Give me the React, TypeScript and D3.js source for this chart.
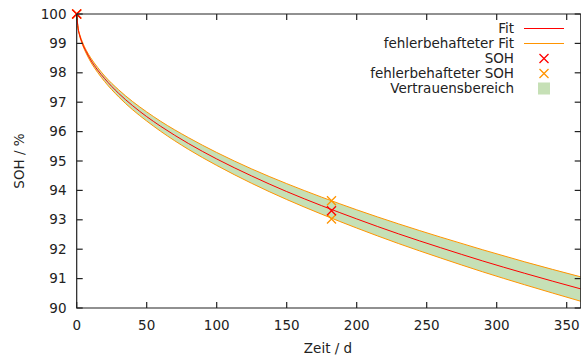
import * as d3 from 'd3'

const days = [0, 1, 2, 4, 7, 10, 15, 20, 30, 40, 50, 60, 80, 100, 125, 150, 175, 200, 230, 260, 290, 320, 360]
const fit = [100, 99.51, 99.3, 99.01, 98.7, 98.44, 98.09, 97.8, 97.3, 96.88, 96.51, 96.18, 95.59, 95.07, 94.49, 93.96, 93.48, 93.03, 92.52, 92.05, 91.6, 91.18, 90.65]
const fitUpper = [100, 99.53, 99.33, 99.06, 98.75, 98.51, 98.18, 97.89, 97.42, 97.02, 96.67, 96.35, 95.79, 95.29, 94.73, 94.23, 93.77, 93.34, 92.86, 92.41, 91.98, 91.57, 91.06]
const fitLower = [100, 99.49, 99.27, 98.97, 98.64, 98.37, 98.01, 97.7, 97.18, 96.74, 96.36, 96.01, 95.39, 94.85, 94.24, 93.69, 93.19, 92.72, 92.19, 91.7, 91.23, 90.79, 90.23]

const sohDays = [0, 182]
const soh = [100, 93.31]
const sohErrDays = [0, 0, 182, 182]
const sohErr = [100, 100, 93.65, 93.03]

const xTicks = [0, 50, 100, 150, 200, 250, 300, 350]
const yTicks = [90, 91, 92, 93, 94, 95, 96, 97, 98, 99, 100]

const legendLabels = ['Fit', 'fehlerbehafteter Fit', 'SOH', 'fehlerbehafteter SOH', 'Vertrauensbereich']

const W = 581
const H = 356
const RED = '#ff0000'
const ORANGE = '#ff9400'
const GREEN = '#c6e0b6'
const AXIS = '#222'
const FONT = 'DejaVu Sans, sans-serif'

export default function App() {
  const x = d3.scaleLinear().domain([0, 360]).range([76.7, 580.7])
  const y = d3.scaleLinear().domain([90, 100]).range([308, 14])

  const idx = days.map((_, i) => i)
  const line = (vals: number[]) =>
    d3.line<number>().x(i => x(days[i])).y(i => y(vals[i])).curve(d3.curveMonotoneX)(idx) ?? ''
  const band = d3.area<number>()
    .x(i => x(days[i]))
    .y0(i => y(fitLower[i]))
    .y1(i => y(fitUpper[i]))
    .curve(d3.curveMonotoneX)(idx) ?? ''

  const [x0, x1] = x.range()
  const [yb, yt] = y.range()

  const cross = (cx: number, cy: number, color: string, key: string) => (
    <path key={key} d={`M${cx - 4.5},${cy - 4.5}L${cx + 4.5},${cy + 4.5}M${cx - 4.5},${cy + 4.5}L${cx + 4.5},${cy - 4.5}`}
      stroke={color} strokeWidth={1.3} fill="none" />
  )

  const legX = 514
  const legY = (i: number) => 28.5 + i * 15

  return (
    <svg width={W} height={H} style={{ position: 'absolute', left: 0, top: 0, background: '#fff' }}
      fontFamily={FONT} fontSize={13.5} fill="#222">
      <path d={band} fill={GREEN} stroke="none" />
      <path d={line(fitUpper)} fill="none" stroke={ORANGE} strokeWidth={1} />
      <path d={line(fitLower)} fill="none" stroke={ORANGE} strokeWidth={1} />
      <path d={line(fit)} fill="none" stroke={RED} strokeWidth={1} />

      {sohErrDays.map((d, i) => cross(x(d), y(sohErr[i]), ORANGE, 'e' + i))}
      {sohDays.map((d, i) => cross(x(d), y(soh[i]), RED, 's' + i))}

      {/* Rahmen und Ticks */}
      <g stroke={AXIS} strokeWidth={1.2} fill="none">
        <path d={`M${x0},${yt}V${yb}H${x1}`} />
        <path d={`M${x0},${yt}H${x1}V${yb}`} strokeWidth={1} />
        {xTicks.map(t => (
          <g key={'xt' + t}>
            <line x1={x(t)} x2={x(t)} y1={yb} y2={yb - 6} />
            <line x1={x(t)} x2={x(t)} y1={yt} y2={yt + 6} />
          </g>
        ))}
        {yTicks.map(t => (
          <g key={'yt' + t}>
            <line x1={x0} x2={x0 + 6} y1={y(t)} y2={y(t)} />
            <line x1={x1} x2={x1 - 6} y1={y(t)} y2={y(t)} />
          </g>
        ))}
      </g>

      {xTicks.map(t => (
        <text key={'xl' + t} x={x(t)} y={330} textAnchor="middle">{t}</text>
      ))}
      {yTicks.map(t => (
        <text key={'yl' + t} x={66.5} y={y(t) + 4.5} textAnchor="end">{t}</text>
      ))}

      <text x={328} y={353} textAnchor="middle">Zeit / d</text>
      <text transform="translate(24,161) rotate(-90)" textAnchor="middle">SOH / %</text>

      {/* Legende */}
      {legendLabels.map((l, i) => (
        <text key={'lg' + i} x={legX} y={legY(i) + 4.5} textAnchor="end">{l}</text>
      ))}
      <line x1={524} x2={564} y1={legY(0)} y2={legY(0)} stroke={RED} strokeWidth={1.2} />
      <line x1={524} x2={564} y1={legY(1)} y2={legY(1)} stroke={ORANGE} strokeWidth={1.2} />
      {cross(544, legY(2), RED, 'lg-s')}
      {cross(544, legY(3), ORANGE, 'lg-e')}
      <rect x={538} y={legY(4) - 6} width={12} height={12} fill={GREEN} />
    </svg>
  )
}
